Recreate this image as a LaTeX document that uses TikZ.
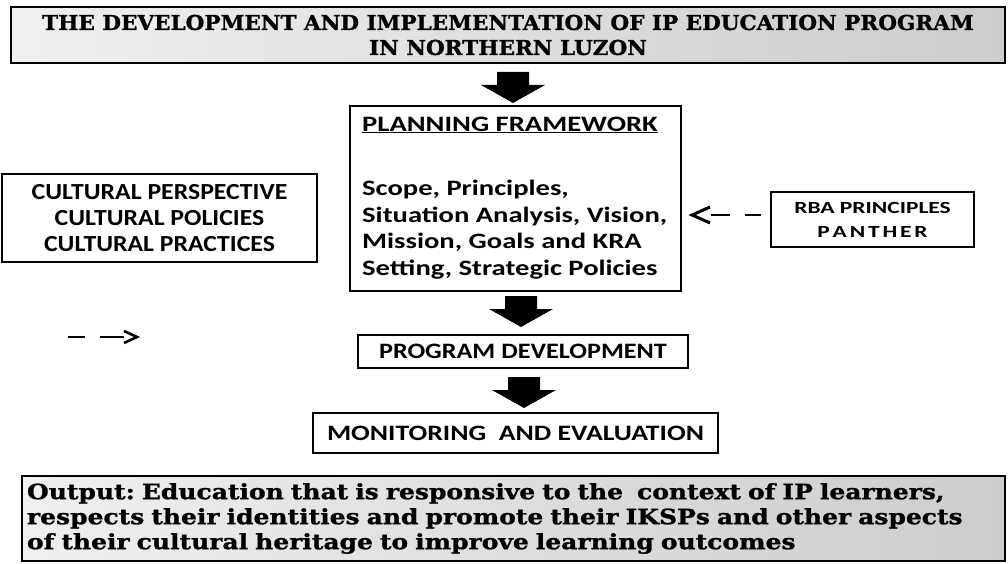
\documentclass[tikz,border=0pt]{standalone}
\usepackage{fontspec}
\setmainfont{Carlito}
\newfontfamily\slabfont{DejaVu Serif}
\newcommand\wide[1]{\addfontfeatures{FakeStretch=#1}}
\frenchspacing
\begin{document}
\begin{tikzpicture}[x=1pt,y=-1pt,
  box/.style={draw=black,line width=1.6pt,rectangle,inner sep=0pt,font=\bfseries},
  greybox/.style={box,left color=gray!12,right color=gray!40,shading angle=90},
  blockarrow/.pic={\fill[black] (-16,0) -- (16,0) -- (16,13) -- (32,13) -- (0,31) -- (-32,13) -- (-16,13) -- cycle;},
  dashmark/.style={line width=2.4pt,black},
]
\useasboundingbox (0,0) rectangle (1008,564);

% title banner
\node[greybox,minimum width=994pt,minimum height=56pt,align=center,
      font=\slabfont\bfseries\fontsize{20.5}{25}\selectfont\addfontfeatures{FakeStretch=1.05,FakeBold=1.2}] (title) at (508,35)
  {THE DEVELOPMENT AND IMPLEMENTATION OF IP EDUCATION PROGRAM\\IN NORTHERN LUZON};

% planning framework
\node[box,minimum width=331pt,minimum height=185pt] (plan) at (515.5,198.5) {};
\node[anchor=west,inner sep=0pt,font=\bfseries\fontsize{22}{27}\selectfont\wide{1.3}] (planhead) at (362,125)
  {\underline{PLANNING FRAMEWORK}};
\node[anchor=north west,inner sep=0pt,align=left,font=\bfseries\fontsize{22}{26.5}\selectfont\wide{1.3}] (plantext) at (362,180)
  {Scope, Principles,\\Situation Analysis, Vision,\\Mission, Goals and KRA\\Setting, Strategic Policies};

% side boxes
\node[box,minimum width=315pt,minimum height=88pt,align=center,font=\bfseries\fontsize{23}{26}\selectfont\wide{1.12}] (culture) at (159.5,218)
  {CULTURAL PERSPECTIVE\\CULTURAL POLICIES\\CULTURAL PRACTICES};
\node[box,minimum width=203pt,minimum height=55pt,align=center,font=\bfseries\fontsize{17}{24}\selectfont\wide{1.38}] (rba) at (872.5,219.5)
  {RBA PRINCIPLES\\P\,A\,N\,T\,H\,E\,R};

% later stages
\node[box,minimum width=330pt,minimum height=33pt,font=\bfseries\fontsize{22}{25}\selectfont\wide{1.19}] (prog) at (523,351.5)
  {PROGRAM DEVELOPMENT};
\node[box,minimum width=405pt,minimum height=40pt,font=\bfseries\fontsize{22}{25}\selectfont\wide{1.26}] (mon) at (515.5,433)
  {MONITORING\ \ AND EVALUATION};

% output banner
\node[greybox,minimum width=983pt,minimum height=85pt,text width=973pt,align=left,inner xsep=5pt,
      font=\slabfont\bfseries\fontsize{21}{25}\selectfont\addfontfeatures{FakeStretch=1.19,FakeBold=1.2}] (out) at (513.5,518.5)
  {Output: Education that is responsive to the\ \ context of IP learners,\\
   respects their identities and promote their IKSPs and other aspects\\
   of their cultural heritage to improve learning outcomes};

% block arrows between stages
\pic at (513,72) {blockarrow};
\pic at (521,296) {blockarrow};
\pic at (524,377) {blockarrow};

% dashed pointer from the RBA box
\coordinate (rtip) at (692,215);
\draw[dashmark,line width=3pt,line join=miter] (710,207) -- (rtip) -- (710,223);
\draw[dashmark] (711,215) -- (730,215);
\draw[dashmark] (745,215) -- (761,215);

% loose dashed pointer on the left
\coordinate (ltip) at (137,337);
\draw[dashmark,line width=2.6pt,line join=miter] (124,331) -- (ltip) -- (124,343);
\draw[dashmark,line width=2pt] (68,337) -- (85,337);
\draw[dashmark,line width=2.2pt] (100,337) -- (124,337);
\end{tikzpicture}
\end{document}
